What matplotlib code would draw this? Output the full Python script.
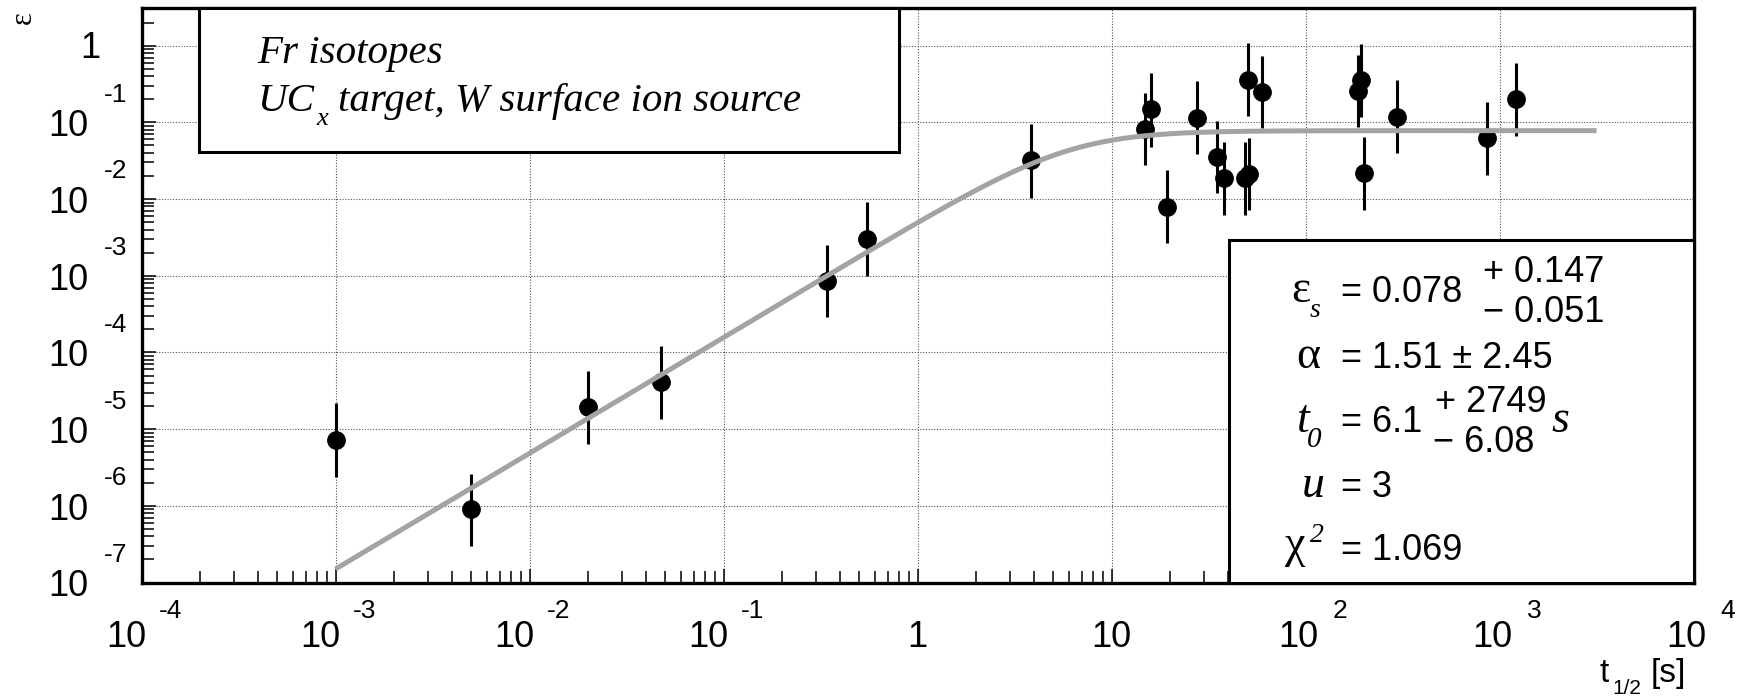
import numpy as np
import matplotlib
matplotlib.use("Agg")
import matplotlib.pyplot as plt
import matplotlib.patches as patches
import matplotlib.transforms as mtransforms
from matplotlib.ticker import LogLocator, NullFormatter

# half-lives of the Fr isotopes [s] and measured efficiencies with error band
t_half = [1.0e-3, 5.0e-3, 0.020, 0.0475, 0.34, 0.55, 3.83, 14.9, 16.0, 19.2,
          27.5, 34.8, 38.1, 48.8, 50.8, 50.3, 59.4, 187, 193, 200, 295, 857, 1210]
eps = [7.23e-6, 9.04e-7, 1.93e-5, 4.08e-5, 8.63e-4, 3.02e-3, 3.24e-2, 8.20e-2,
       0.150, 7.96e-3, 0.115, 3.57e-2, 1.90e-2, 1.86e-2, 2.12e-2, 0.357, 0.247,
       0.259, 0.357, 2.17e-2, 0.116, 6.21e-2, 0.202]
eps_hi = [2.18e-5, 2.63e-6, 5.79e-5, 1.22e-4, 2.52e-3, 9.08e-3, 9.62e-2, 0.244,
          0.437, 2.39e-2, 0.347, 0.105, 5.60e-2, 5.55e-2, 6.34e-2, 1.07, 0.735,
          0.757, 1.05, 6.52e-2, 0.357, 0.186, 0.590]
eps_lo = [2.40e-6, 2.99e-7, 6.41e-6, 1.36e-5, 2.88e-4, 1.00e-3, 1.04e-2, 2.79e-2,
          4.82e-2, 2.65e-3, 3.87e-2, 1.19e-2, 6.21e-3, 6.22e-3, 7.11e-3, 0.121,
          8.38e-2, 8.79e-2, 0.116, 7.21e-3, 3.95e-2, 2.06e-2, 6.65e-2]

# fit result
eps_s = 0.078
alpha = 1.51
t0 = 6.1
u = 3
knee = 1.8          # sharpness of the turnover between the two regimes
fit_range = (1e-3, 10**3.5)

x_exps = [-4, -3, -2, -1, 0, 1, 2, 3, 4]
y_exps = [-7, -6, -5, -4, -3, -2, -1, 0]

W, H = 1755, 700
SANS = "Liberation Sans"
SERIF = "Liberation Serif"

fig = plt.figure(figsize=(W / 100, H / 100), dpi=100)
ax = fig.add_axes([141.6 / W, 1 - 582.5 / H, (1693.6 - 141.6) / W, (582.5 - 8) / H])
ax.set_xscale("log")
ax.set_yscale("log")
ax.set_xlim(1e-4, 1e4)
ax.set_ylim(1e-7, 3.1)

ax.xaxis.set_major_locator(LogLocator(base=10, numticks=20))
ax.yaxis.set_major_locator(LogLocator(base=10, numticks=20))
ax.xaxis.set_minor_locator(LogLocator(base=10, subs=range(2, 10), numticks=20))
ax.yaxis.set_minor_locator(LogLocator(base=10, subs=range(2, 10), numticks=20))
ax.xaxis.set_minor_formatter(NullFormatter())
ax.yaxis.set_minor_formatter(NullFormatter())
ax.tick_params(which="both", direction="in", top=False, right=False,
               labelbottom=False, labelleft=False, width=1.1, color="black")
ax.tick_params(which="major", length=10)
ax.tick_params(which="minor", length=8.5)
ax.grid(True, which="major", linestyle=(0, (1, 1.5)), color="#555555", linewidth=0.8)
ax.set_axisbelow(True)
for s in ax.spines.values():
    s.set_linewidth(2.4)

# data points
t_arr = np.array(t_half)
e_arr = np.array(eps)
yerr = [e_arr - np.array(eps_lo), np.array(eps_hi) - e_arr]
ax.errorbar(t_arr, e_arr, yerr=yerr, fmt="o", color="black", ms=12.5,
            elinewidth=2.2, capsize=0, zorder=3)

# fitted efficiency curve: eps_s * (t/t0)^alpha at short t, eps_s plateau at long t
t_fit = np.logspace(np.log10(fit_range[0]), np.log10(fit_range[1]), 500)
eps_fit = eps_s / (1 + (t0 / t_fit) ** knee) ** (alpha / knee)
ax.plot(t_fit, eps_fit, color="#a3a3a3", lw=3.6, zorder=4, solid_capstyle="butt")

# ROOT-style tick labels
xt = ax.get_xaxis_transform()
for e in x_exps:
    v = 10.0 ** e
    if e == 0 or e == 1:
        tr = mtransforms.offset_copy(xt, fig, x=0, y=-64.5, units="dots")
        ax.text(v, 0, "1" if e == 0 else "10", transform=tr, ha="center",
                va="baseline", fontsize=26, family=SANS)
        continue
    d10, dex = (5, 17) if e < 0 else (13, 27)
    tr = mtransforms.offset_copy(xt, fig, x=d10, y=-64.5, units="dots")
    ax.text(v, 0, "10", transform=tr, ha="right", va="baseline", fontsize=26, family=SANS)
    tr = mtransforms.offset_copy(xt, fig, x=dex, y=-35.5, units="dots")
    ax.text(v, 0, str(e), transform=tr, ha="left", va="baseline", fontsize=19, family=SANS)

yt = ax.get_yaxis_transform()
for e in y_exps:
    v = 10.0 ** e
    if e == 0:
        tr = mtransforms.offset_copy(yt, fig, x=0, y=-12.3, units="dots")
        ax.text((100 - 141.6) / 1552, v, "1", transform=tr, ha="right",
                va="baseline", fontsize=26, family=SANS)
        continue
    tr = mtransforms.offset_copy(yt, fig, x=0, y=-13.8, units="dots")
    ax.text((88 - 141.6) / 1552, v, "10", transform=tr, ha="right",
            va="baseline", fontsize=26, family=SANS)
    tr = mtransforms.offset_copy(yt, fig, x=0, y=20.6, units="dots")
    ax.text((104 - 141.6) / 1552, v, str(e), transform=tr, ha="left",
            va="baseline", fontsize=19, family=SANS)


def ftext(x, y, s, **kw):
    # place text at pixel position measured from the top-left corner
    kw.setdefault("va", "baseline")
    kw.setdefault("ha", "left")
    return fig.text(x / W, 1 - y / H, s, **kw)


# axis titles
ftext(23, 18, "ε", rotation=90, ha="center", va="center", fontsize=22, family=SERIF)
ftext(1599.5, 682, "t", fontsize=24, family=SANS)
ftext(1612, 694, "1/2", fontsize=15, family=SANS)
ftext(1651, 682, "[s]", fontsize=24, family=SANS)

# label box, top left
fig.patches.append(patches.Rectangle((199 / W, 1 - 151.8 / H), (899.3 - 199) / W,
                                     (151.8 - 8) / H, transform=fig.transFigure,
                                     facecolor="white", edgecolor="black", lw=2.2,
                                     zorder=5))
box_font = dict(fontsize=29.5, family=SERIF, style="italic", zorder=6)
ftext(256.8, 62.5, "Fr isotopes", **box_font)
ftext(256.8, 111, "UC", **box_font)
ftext(316, 125, "x", fontsize=19, family=SERIF, style="italic", zorder=6)
ftext(338, 111, "target, W surface ion source", **box_font)

# fit parameter box, bottom right
fig.patches.append(patches.Rectangle((1229 / W, 1 - 582.5 / H), (1693.6 - 1229) / W,
                                     (582.5 - 239.7) / H, transform=fig.transFigure,
                                     facecolor="white", edgecolor="black", lw=2.2,
                                     zorder=5))
num = dict(fontsize=26, family=SANS, zorder=6)
sym = dict(fontsize=33, family=SERIF, zorder=6)
isym = dict(fontsize=33, family=SERIF, style="italic", zorder=6)

ftext(1291.7, 302, "ε", **sym)
ftext(1310, 317, "s", fontsize=20, family=SERIF, style="italic", zorder=6)
ftext(1341, 301.7, f"= {eps_s:.3f}", **num)
ftext(1483, 281.7, "+ 0.147", **num)
ftext(1483, 321.7, "\u2212 0.051", **num)

ftext(1296.7, 368.3, "α", **sym)
ftext(1341, 368.3, f"= {alpha:.2f} ± 2.45", **num)

ftext(1296.7, 431.7, "t", **isym)
ftext(1306.7, 446.7, "0", fontsize=21, family=SERIF, style="italic", zorder=6)
ftext(1341, 431.7, f"= {t0:.1f}", **num)
ftext(1435, 411.7, "+ 2749", **num)
ftext(1433, 451.7, "\u2212 6.08", **num)
ftext(1551.7, 431.7, "s", **isym)

ftext(1301.7, 496.7, "u", **isym)
ftext(1341, 496.7, f"= {u}", **num)

ftext(1285, 556.7, "χ", **sym)
ftext(1310, 541.7, "2", fontsize=20, family=SERIF, style="italic", zorder=6)
ftext(1341, 560, "= 1.069", **num)

fig.savefig("out.png", dpi=100, facecolor="white")
